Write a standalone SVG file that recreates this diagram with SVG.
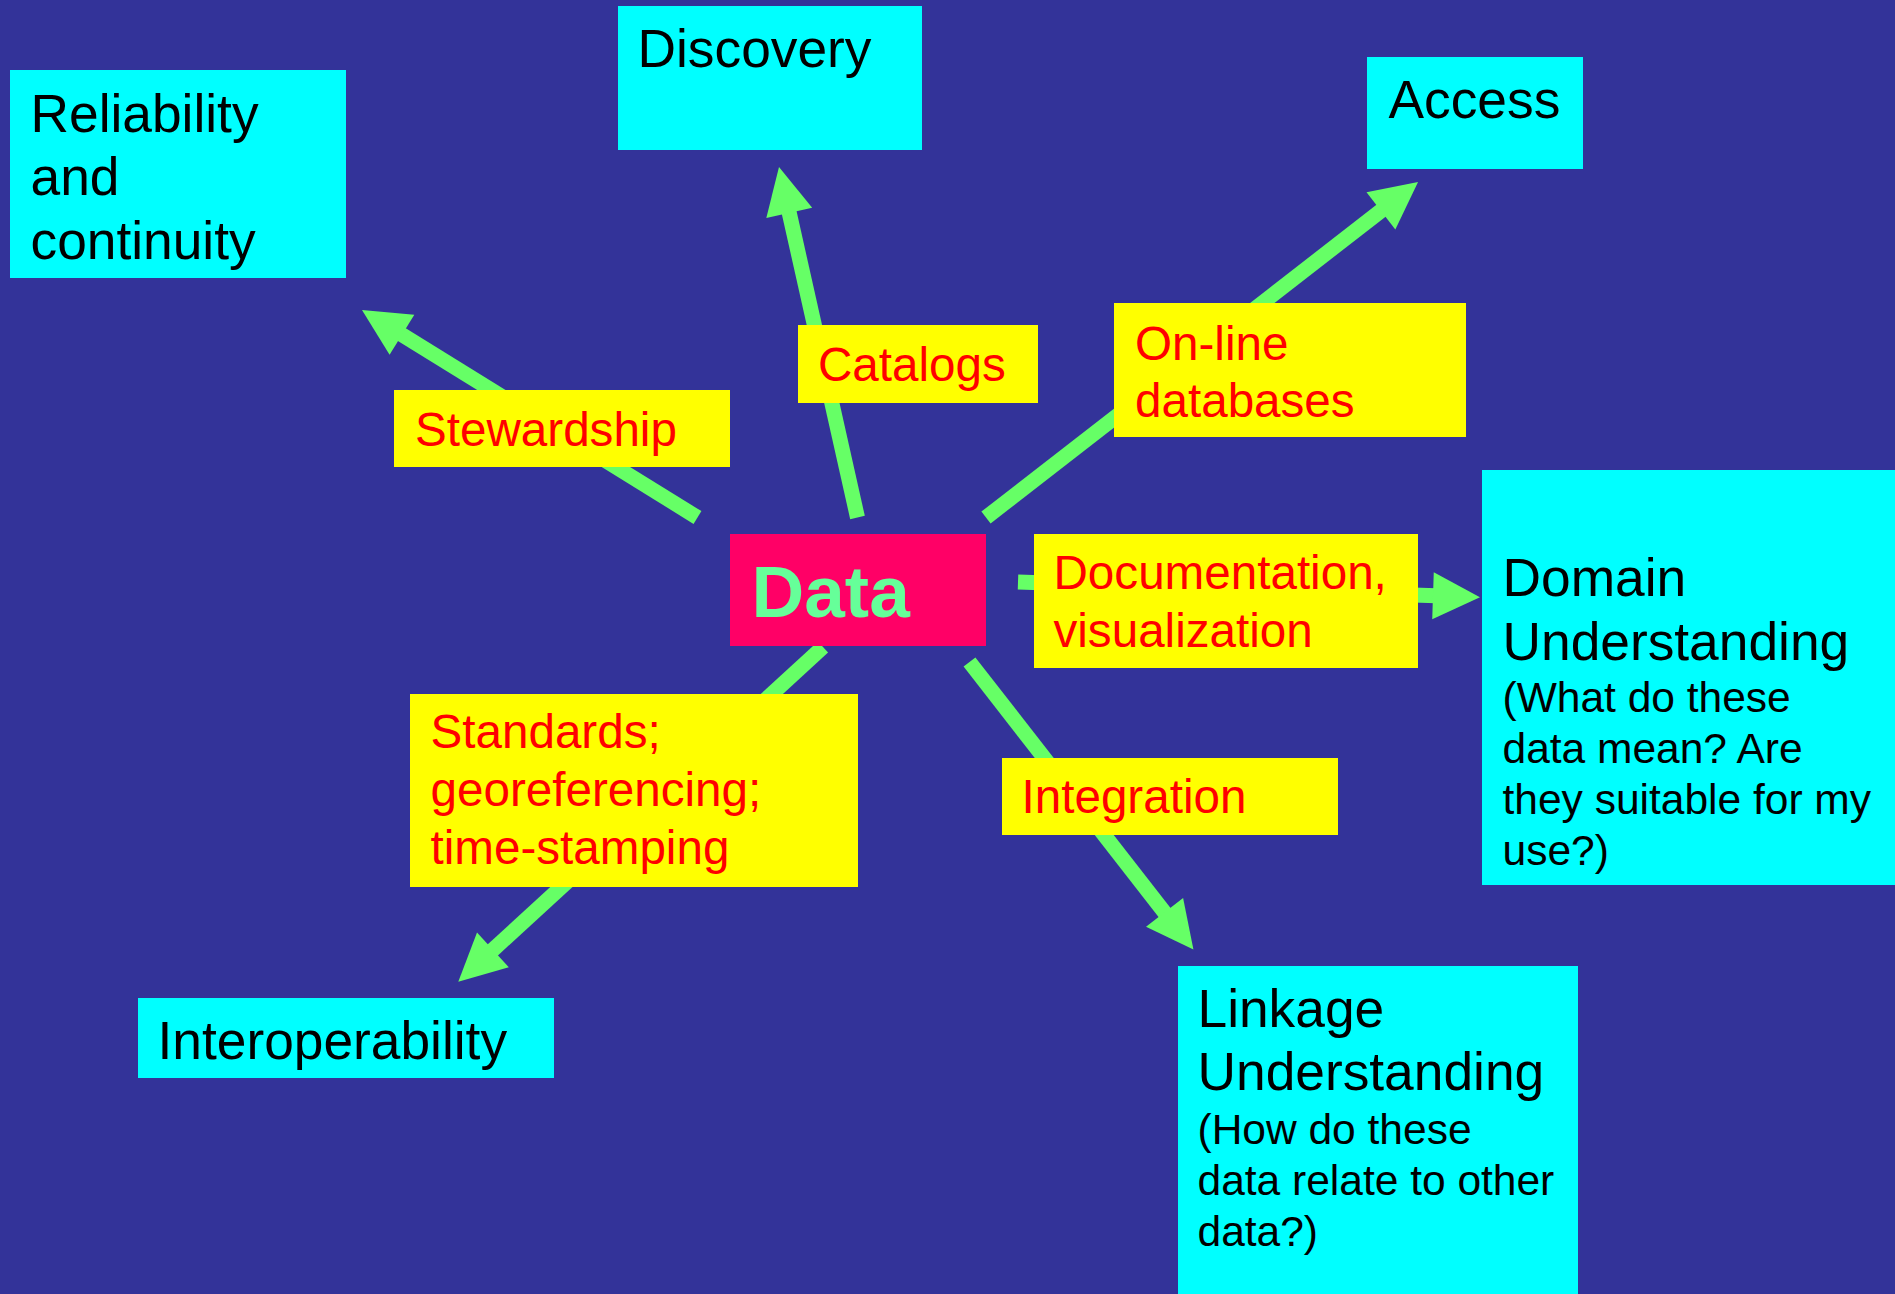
<svg xmlns="http://www.w3.org/2000/svg" width="1895" height="1294" viewBox="0 0 1895 1294">
  <style>
    .bg { fill: #333399; }
    .target { fill: #00FFFF; }
    .label { fill: #FFFF00; }
    .core { fill: #FF0066; }
    .conn { stroke: #66FF66; stroke-width: 15; fill: none; stroke-linecap: butt; marker-end: url(#ah); }
    .tBig { font-family: "Liberation Sans", Arial, sans-serif; font-size: 53.3px; fill: #000000; }
    .tSmall { font-family: "Liberation Sans", Arial, sans-serif; font-size: 42.5px; fill: #000000; }
    .tRed { font-family: "Liberation Sans", Arial, sans-serif; font-size: 47.6px; fill: #FF0000; }
    .tData { font-family: "Liberation Sans", Arial, sans-serif; font-size: 73px; font-weight: bold; fill: #66FF99; }
  </style>
  <defs>
    <marker id="ah" markerUnits="userSpaceOnUse" viewBox="0 -24 48 48" markerWidth="48" markerHeight="48" refX="3" refY="0" orient="auto" overflow="visible">
      <path d="M0,-23.5 L47,0 L0,23.5 Z" fill="#66FF66"/>
    </marker>
  </defs>

  <rect class="bg" x="0" y="0" width="1895" height="1294"/>

  <g id="connectors">
    <line class="conn" x1="697.5" y1="517.5" x2="399.4" y2="333.1"/>
    <line class="conn" x1="857.5" y1="517.5" x2="788.6" y2="210"/>
    <line class="conn" x1="986" y1="517.5" x2="1383.3" y2="209"/>
    <line class="conn" x1="1018" y1="582" x2="1436" y2="595.8"/>
    <line class="conn" x1="969.5" y1="662" x2="1166.4" y2="914.8"/>
    <line class="conn" x1="823" y1="647" x2="490.7" y2="951.9"/>
  </g>

  <g id="node-reliability">
    <rect class="target" x="10" y="70" width="336" height="208"/>
    <text class="tBig" x="30.5" y="131.7">Reliability</text>
    <text class="tBig" x="30.5" y="195">and</text>
    <text class="tBig" x="30.5" y="259.3">continuity</text>
  </g>

  <g id="node-discovery">
    <rect class="target" x="618" y="6" width="304" height="144"/>
    <text class="tBig" x="637.5" y="67">Discovery</text>
  </g>

  <g id="node-access">
    <rect class="target" x="1367" y="57" width="216" height="112"/>
    <text class="tBig" x="1388.5" y="118">Access</text>
  </g>

  <g id="node-domain">
    <rect class="target" x="1482" y="470" width="413" height="415"/>
    <text class="tBig" x="1502.5" y="596">Domain</text>
    <text class="tBig" x="1502.5" y="660">Understanding</text>
    <text class="tSmall" x="1502.5" y="711.7">(What do these</text>
    <text class="tSmall" x="1502.5" y="762.7">data mean? Are</text>
    <text class="tSmall" x="1502.5" y="814">they suitable for my</text>
    <text class="tSmall" x="1502.5" y="865">use?)</text>
  </g>

  <g id="node-linkage">
    <rect class="target" x="1178" y="966" width="400" height="328"/>
    <text class="tBig" x="1197.5" y="1026.7">Linkage</text>
    <text class="tBig" x="1197.5" y="1090">Understanding</text>
    <text class="tSmall" x="1197.5" y="1144.3">(How do these</text>
    <text class="tSmall" x="1197.5" y="1195">data relate to other</text>
    <text class="tSmall" x="1197.5" y="1246">data?)</text>
  </g>

  <g id="node-interoperability">
    <rect class="target" x="138" y="998" width="416" height="80"/>
    <text class="tBig" x="157.5" y="1058.6">Interoperability</text>
  </g>

  <g id="node-data">
    <rect class="core" x="730" y="534" width="256" height="112"/>
    <text class="tData" x="751.5" y="616.7">Data</text>
  </g>

  <g id="label-stewardship">
    <rect class="label" x="394" y="390" width="336" height="77"/>
    <text class="tRed" x="415" y="446">Stewardship</text>
  </g>

  <g id="label-catalogs">
    <rect class="label" x="798" y="325" width="240" height="78"/>
    <text class="tRed" x="818" y="381">Catalogs</text>
  </g>

  <g id="label-online">
    <rect class="label" x="1114" y="303" width="352" height="134"/>
    <text class="tRed" x="1135" y="360">On-line</text>
    <text class="tRed" x="1135" y="416.7">databases</text>
  </g>

  <g id="label-documentation">
    <rect class="label" x="1034" y="534" width="384" height="134"/>
    <text class="tRed" x="1053.5" y="589">Documentation,</text>
    <text class="tRed" x="1053.5" y="647.3">visualization</text>
  </g>

  <g id="label-standards">
    <rect class="label" x="410" y="694" width="448" height="193"/>
    <text class="tRed" x="430.5" y="747.6">Standards;</text>
    <text class="tRed" x="430.5" y="805.7">georeferencing;</text>
    <text class="tRed" x="430.5" y="863.7">time-stamping</text>
  </g>

  <g id="label-integration">
    <rect class="label" x="1002" y="758" width="336" height="77"/>
    <text class="tRed" x="1021.5" y="813">Integration</text>
  </g>
</svg>
